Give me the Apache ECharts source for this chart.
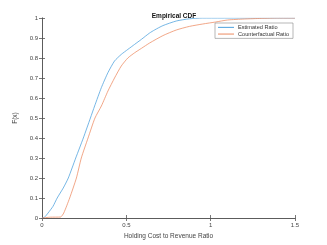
<!DOCTYPE html>
<html><head><meta charset="utf-8">
<script src="https://cdn.jsdelivr.net/npm/echarts@6/dist/echarts.min.js"></script>
<style>html,body{margin:0;padding:0;background:#fff}#c{width:327px;height:245px}</style>
</head><body><div id="c"></div>
<script>
const estimatedX = [0,0.015,0.036,0.065,0.09,0.126,0.156,0.2,0.245,0.287,0.312,0.352,0.391,0.43,0.47,0.509,0.549,0.589,0.638,0.667,0.717,0.796,0.874,0.95,1.5];
const estimatedY = [0,0.004,0.025,0.058,0.1,0.15,0.2,0.3,0.4,0.5,0.56,0.652,0.727,0.785,0.818,0.843,0.868,0.893,0.925,0.94,0.962,0.985,0.996,1.0,1.0];
const counterX = [0,0.05,0.11,0.129,0.164,0.204,0.233,0.273,0.314,0.352,0.391,0.43,0.47,0.509,0.549,0.589,0.638,0.717,0.796,0.874,0.953,1.03,1.1,1.2,1.3,1.4,1.5];
const counterY = [0,0.004,0.005,0.025,0.1,0.2,0.3,0.4,0.5,0.56,0.635,0.7,0.76,0.8,0.826,0.848,0.875,0.912,0.94,0.958,0.97,0.98,0.99,0.995,0.998,1.0,1.0];
const seriesNames = ['Estimated Ratio','Counterfactual Ratio'];
const titleText = 'Empirical CDF';
const xLabel = 'Holding Cost to Revenue Ratio';
const yLabel = 'F(x)';

const font = 'Liberation Sans, Arial, sans-serif';
const axisCol = '#555';
const zip = (a,b) => a.map((v,i)=>[v,b[i]]);
const chart = echarts.init(document.getElementById('c'));
const axLine = {show:true, lineStyle:{color:axisCol, width:0.8}};
const axTick = {show:true, inside:true, length:3, lineStyle:{color:axisCol, width:0.8}};
chart.setOption({
  animation:false,
  title:{text:titleText, left:169, top:8, textAlign:'center', textStyle:{fontFamily:font, fontSize:6.5, fontWeight:'bold', color:'#111'}},
  grid:{left:42, right:32, top:18, bottom:27},
  legend:{data:seriesNames, right:34, top:23, orient:'vertical', icon:'rect', itemWidth:16, itemHeight:1, itemGap:0,
    padding:[1,4,1,3], borderColor:'#888', borderWidth:0.6, backgroundColor:'#fff',
    textStyle:{fontFamily:font, fontSize:5.6, lineHeight:6.7, color:'#333', padding:[0,0,0,-1]}},
  xAxis:[
    {type:'value', min:0, max:1.5, interval:0.5, position:'bottom', name:xLabel, nameLocation:'middle', nameGap:14,
     nameTextStyle:{fontFamily:font, fontSize:6.5, color:'#444'},
     axisLine:axLine, axisTick:axTick, splitLine:{show:false},
     axisLabel:{fontFamily:font, fontSize:6, color:'#444', margin:4}},
    {type:'value', min:0, max:1.5, interval:0.5, position:'top',
     axisLine:axLine, axisTick:axTick, splitLine:{show:false}, axisLabel:{show:false}}
  ],
  yAxis:[
    {type:'value', min:0, max:1, interval:0.1, position:'left', name:yLabel, nameLocation:'middle', nameGap:17,
     nameTextStyle:{fontFamily:font, fontSize:6.5, color:'#444'},
     axisLine:axLine, axisTick:axTick, splitLine:{show:false},
     axisLabel:{fontFamily:font, fontSize:6, color:'#444', margin:4}},
    {type:'value', min:0, max:1, interval:0.1, position:'right',
     axisLine:axLine, axisTick:axTick, splitLine:{show:false}, axisLabel:{show:false}}
  ],
  series:[
    {name:seriesNames[0], type:'line', data:zip(estimatedX, estimatedY), symbol:'none', smooth:0.2,
     lineStyle:{color:'#4a9fdc', width:0.75}, itemStyle:{color:'#4a9fdc'}},
    {name:seriesNames[1], type:'line', data:zip(counterX, counterY), symbol:'none', smooth:0.2,
     lineStyle:{color:'#ec8a60', width:0.75}, itemStyle:{color:'#ec8a60'}}
  ]
});
</script></body></html>
